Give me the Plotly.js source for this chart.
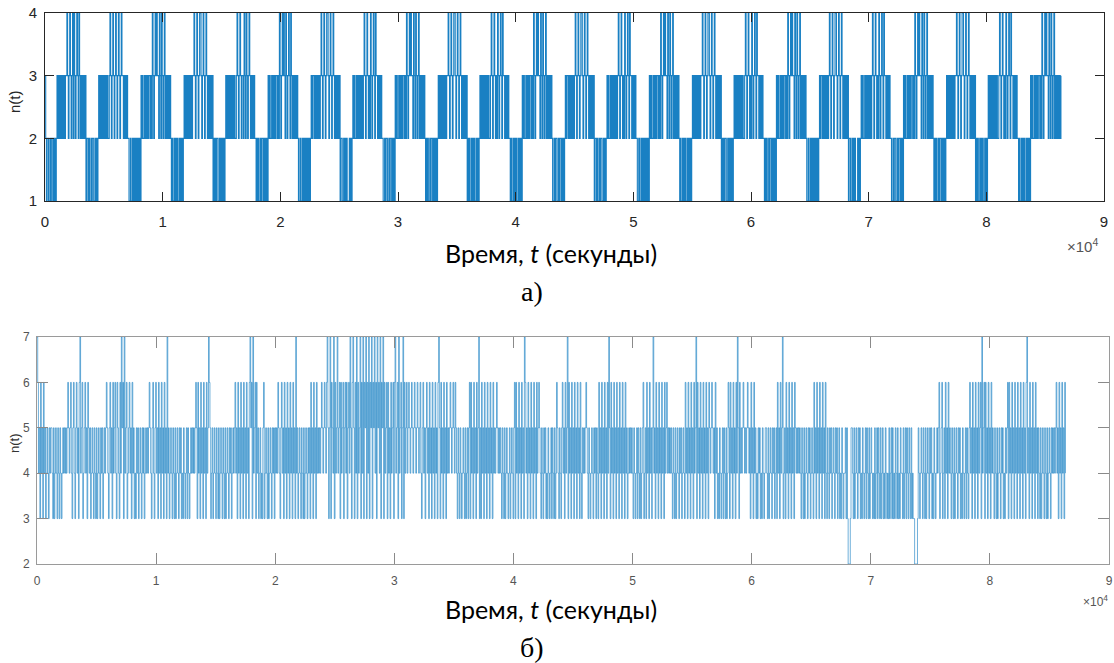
<!DOCTYPE html>
<html>
<head>
<meta charset="utf-8">
<script src="https://cdn.plot.ly/plotly-3.0.1.min.js"></script>
<style>
  html, body { margin: 0; padding: 0; background: #ffffff; }
  #chart { width: 1114px; height: 663px; }
</style>
</head>
<body>
<div id="chart"></div>
<script>
// Sampling step of both records, seconds (one value per minute, one row per hour)
const sampleStep = 60;

// x tick positions (seconds) and their labels (in units of 10^4 s)
const xTickValues = [0, 10000, 20000, 30000, 40000, 50000, 60000, 70000, 80000, 90000];
const xTickLabels = ['0', '1', '2', '3', '4', '5', '6', '7', '8', '9'];

// Record (a): n(t) per minute, one row per hour, groups of ten minutes
const hoursA = [
  "3212211212 2121212323 2323232323 3432343234 2432343243 2323232312",
  "2121121221 1212123232 3232323232 2343234323 4323432343 3232323221",
  "1211212121 2121213232 2323232332 3243234343 3243243234 2323232321",
  "2112121211 2121212323 2323232323 3432343234 4323432343 2323232312",
  "1212211212 1212123232 3232323232 2343234323 3243243234 3232323221",
  "2121121221 2121213232 2323232332 3243234343 2432343243 2323232321",
  "1211212121 2121212323 3232323232 3432343234 4323432343 2323232312",
  "2112121211 1212123232 2323232323 2343234323 2432343243 3232323221",
  "1212211212 2121213232 2323232332 3243234343 3243243234 2323232321",
  "2121121221 2121212323 2323232323 3432343234 4323432343 2323232312",
  "1211212121 1212123232 3232323232 2343234323 2432343243 3232323221",
  "2112121211 2121213232 2323232332 3243234343 3243243234 2323232321",
  "1212211212 2121212323 3232323232 3432343234 4323432343 2323232312",
  "2121121221 1212123232 2323232323 2343234323 2432343243 3232323221",
  "1211212121 2121213232 2323232332 3243234343 3243243234 2323232321",
  "2112121211 2121212323 2323232323 3432343234 4323432343 2323232312",
  "1212211212 1212123232 3232323232 2343234323 2432343243 3232323221",
  "2121121221 2121213232 2323232332 3243234343 3243243234 2323232321",
  "1211212121 2121212323 3232323232 3432343234 4323432343 2323232312",
  "2112121211 1212123232 2323232323 2343234323 2432343243 3232323221",
  "1212211212 2121213232 2323232332 3243234343 3243243234 2323232321",
  "2121121221 2121212323 2323232323 3432343234 4323432343 2323232312",
  "1211212121 1212123232 3232323232 2343234323 2432343243 3232323221",
  "2112121211 2121213232 2323232332 3243234343 3243243234 2323232323"
];

// Record (б): n(t) per minute, one row per hour, groups of ten minutes
const hoursB = [
  "7645364536 4534543545 5435345435 4354345454 5456545643 5643564536",
  "7456345645 3654534543 5435345435 4534545654 3564536456 4365436475",
  "6374563456 4536453435 4534543545 3454545654 3564356453 6453645364",
  "5374534543 5435345435 4534354345 3543454545 4565364536 4536453645",
  "7653453454 3543534543 5435345435 4534545645 3645364536 4536453675",
  "6374563645 3453435634 5435345435 4535454654 3564536453 6453645364",
  "5374534543 5435345435 4536453645 3645454565 4565467535 7365473645",
  "7456364563 5646356475 3675364736 4573647365 7364736573 6574637564",
  "7365736456 3645364563 6745637456 3573645645 6545654565 4565456435",
  "6453564536 4536453645 3675364536 4536454565 4565465435 4354345435",
  "3453563645 3645364573 5364536453 6453645364 5456545454 3543534543",
  "4534543563 6453645364 5376453645 3645364536 4565435435 4534354345",
  "3543534654 3543564536 4573645364 5364536453 6435454565 4354345435",
  "4535436453 6453645364 7536453645 3645364536 4536453454 5454354345",
  "3543534563 4536453645 3574536453 6453645364 5645454543 5435345435",
  "4534543645 3645364536 4573645364 5364536453 6545654536 4534354345",
  "3543534653 6453645364 7536454565 4545654536 4536453435 4534354345",
  "5435345435 4534536453 6457345364 5364536453 6545454543 5435345435",
  "4534543645 3645364536 4536435435 4534543545 3453435434 4535322235",
  "5435345435 4534354345 3543534543 4353453543 5345343543 4353453534",
  "3543534354 4353453543 5435343322 2235434543 5435345435 4534354345",
  "4563456345 3645364543 5435345435 4534354345 3543564536 4536453645",
  "6374563645 3645364543 5435345435 4534354563 6453645364 5364536453",
  "6453674536 4536453645 3543534543 5435345435 4545456453 6453645364"
];

function parseRows(rows) {
  return rows.join('').replace(/\s/g, '').split('').map(Number);
}
const nA = parseRows(hoursA);
const nB = parseRows(hoursB);
const tA = nA.map((_, i) => i * sampleStep);
const tB = nB.map((_, i) => i * sampleStep);

const W = 1114, H = 663;
const px = x => x / W;
const py = y => 1 - y / H;

const traceA = {
  type: 'scatter', mode: 'lines', x: tA, y: nA,
  line: { shape: 'hv', color: '#0072BD', width: 1.1 },
  opacity: 0.9, xaxis: 'x', yaxis: 'y', hoverinfo: 'skip'
};
const traceB = {
  type: 'scatter', mode: 'lines', x: tB, y: nB,
  line: { shape: 'hv', color: '#0072BD', width: 0.75 },
  opacity: 0.75, xaxis: 'x2', yaxis: 'y2', hoverinfo: 'skip'
};

const axisA = {
  showline: true, linecolor: '#262626', linewidth: 1, mirror: 'ticks',
  ticks: 'inside', ticklen: 9, tickcolor: '#262626', tickwidth: 1,
  showgrid: false, zeroline: false,
  tickfont: { family: 'Liberation Sans, Arial, sans-serif', size: 15, color: '#262626' }
};
const axisB = {
  showline: true, linecolor: '#9a9a9a', linewidth: 1, mirror: 'ticks',
  ticks: 'inside', ticklen: 11, tickcolor: '#8a8a8a', tickwidth: 1,
  showgrid: false, zeroline: false,
  tickfont: { family: 'Liberation Sans, Arial, sans-serif', size: 12, color: '#555555' }
};

const layout = {
  width: W, height: H,
  margin: { l: 0, r: 0, t: 0, b: 0 },
  paper_bgcolor: '#ffffff', plot_bgcolor: '#ffffff',
  showlegend: false,
  xaxis: Object.assign({}, axisA, {
    domain: [px(45), px(1104)], range: [0, 90000], anchor: 'y',
    tickmode: 'array', tickvals: xTickValues, ticktext: xTickLabels,
    ticklabelstandoff: 7
  }),
  yaxis: Object.assign({}, axisA, {
    domain: [py(201), py(13)], range: [1, 4], anchor: 'x',
    tickmode: 'linear', tick0: 1, dtick: 1, ticklabelstandoff: 4
  }),
  xaxis2: Object.assign({}, axisB, {
    domain: [px(37), px(1109)], range: [0, 90000], anchor: 'y2',
    tickmode: 'array', tickvals: xTickValues, ticktext: xTickLabels,
    ticklabelstandoff: 6
  }),
  yaxis2: Object.assign({}, axisB, {
    domain: [py(564), py(337)], range: [2, 7], anchor: 'x2',
    tickmode: 'linear', tick0: 2, dtick: 1, ticklabelstandoff: 4
  }),
  annotations: [
    { text: 'Время, <i>t</i> (секунды)', x: px(551), y: py(253), xref: 'paper', yref: 'paper',
      xanchor: 'center', yanchor: 'middle', showarrow: false,
      font: { family: 'Lato, Noto Sans, sans-serif', size: 25, color: '#000000' } },
    { text: 'Время, <i>t</i> (секунды)', x: px(551), y: py(609), xref: 'paper', yref: 'paper',
      xanchor: 'center', yanchor: 'middle', showarrow: false,
      font: { family: 'Lato, Noto Sans, sans-serif', size: 25, color: '#000000' } },
    { text: 'а)', x: px(532), y: py(291), xref: 'paper', yref: 'paper',
      xanchor: 'center', yanchor: 'middle', showarrow: false,
      font: { family: 'Liberation Serif, Times New Roman, serif', size: 28, color: '#000000' } },
    { text: 'б)', x: px(532), y: py(647), xref: 'paper', yref: 'paper',
      xanchor: 'center', yanchor: 'middle', showarrow: false,
      font: { family: 'Liberation Serif, Times New Roman, serif', size: 28, color: '#000000' } },
    { text: 'n(t)', x: px(14), y: py(102), xref: 'paper', yref: 'paper', textangle: -90,
      xanchor: 'center', yanchor: 'middle', showarrow: false,
      font: { family: 'Liberation Sans, Arial, sans-serif', size: 15, color: '#262626' } },
    { text: 'n(t)', x: px(14), y: py(443), xref: 'paper', yref: 'paper', textangle: -90,
      xanchor: 'center', yanchor: 'middle', showarrow: false,
      font: { family: 'Liberation Sans, Arial, sans-serif', size: 13, color: '#333333' } },
    { text: '×10<sup>4</sup>', x: px(1082), y: py(245), xref: 'paper', yref: 'paper',
      xanchor: 'center', yanchor: 'middle', showarrow: false,
      font: { family: 'Liberation Sans, Arial, sans-serif', size: 15, color: '#555555' } },
    { text: '×10<sup>4</sup>', x: px(1095), y: py(601), xref: 'paper', yref: 'paper',
      xanchor: 'center', yanchor: 'middle', showarrow: false,
      font: { family: 'Liberation Sans, Arial, sans-serif', size: 12, color: '#555555' } }
  ]
};

Plotly.newPlot('chart', [traceA, traceB], layout, { staticPlot: true, displayModeBar: false });
</script>
</body>
</html>
